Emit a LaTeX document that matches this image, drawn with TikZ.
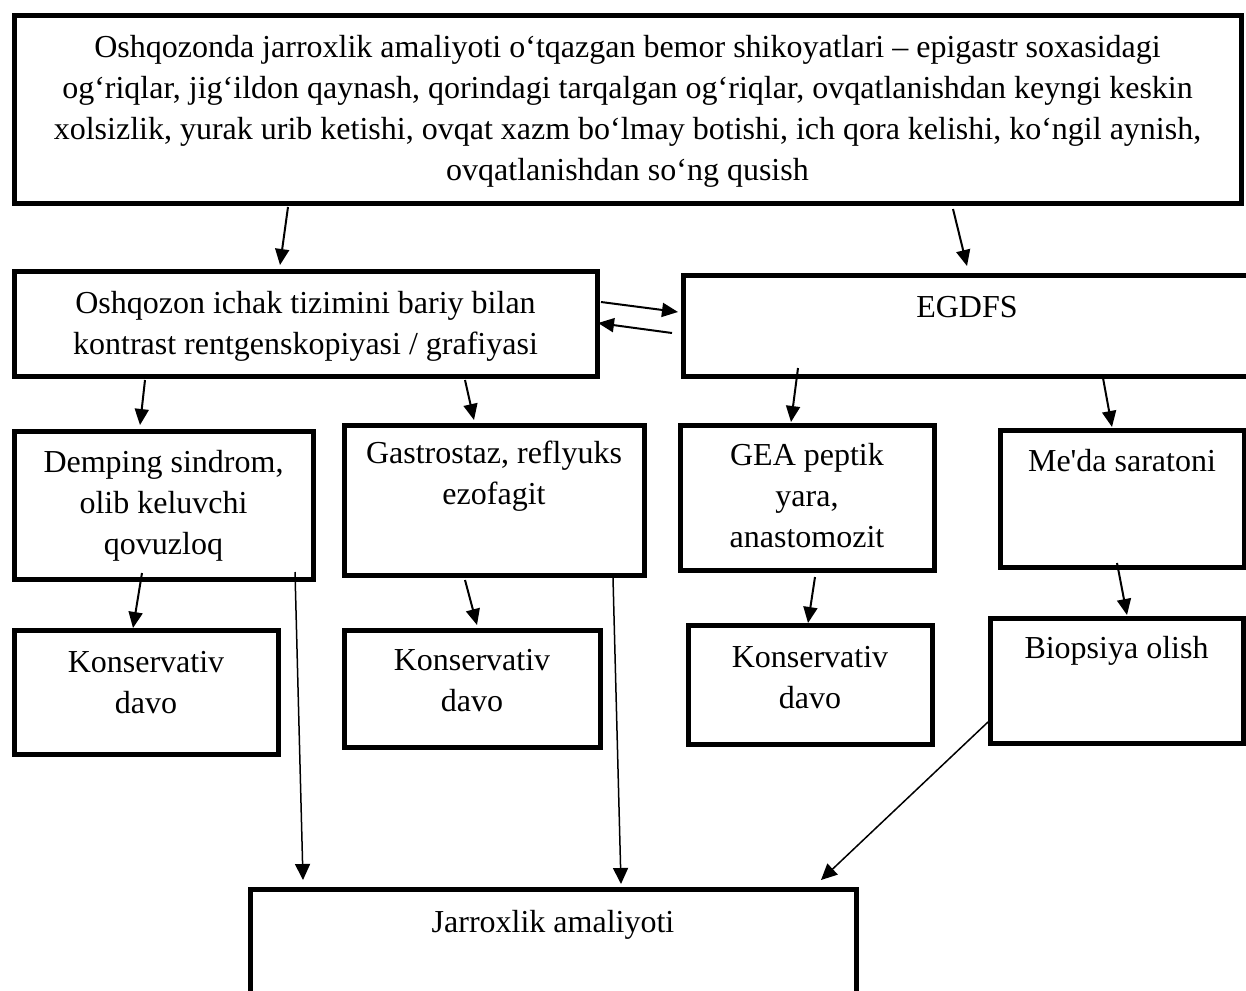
\documentclass[tikz,border=0pt]{standalone}
\usepackage{fontspec}
\newfontfamily\tnr{Liberation Serif}[Ligatures=CommonOff]
\usepackage{tikz}
\usetikzlibrary{arrows.meta}

\begin{document}
\begin{tikzpicture}[x=1pt, y=-1pt,
      blk/.style={rectangle, draw, line width=5pt, inner sep=0pt, outer sep=0pt,
        align=center, anchor=north, font=\tnr\fontsize{32}{41}\selectfont},
      arr/.style={->, line width=2pt},
      longarr/.style={-{Triangle[length=16pt,width=15pt]}, line width=1.5pt},
      >={Triangle[length=16pt,width=14pt]}]
    \fill[white] (0,0) rectangle (1246,990);
    \path[use as bounding box, clip] (0,0) rectangle (1246,990);
    \node[blk, minimum width=1227pt, text height=164pt, text depth=23pt] (top) at (627.5,16)
      {Oshqozonda jarroxlik amaliyoti o‘tqazgan bemor shikoyatlari – epigastr soxasidagi\\
       og‘riqlar, jig‘ildon qaynash, qorindagi tarqalgan og‘riqlar, ovqatlanishdan keyngi keskin\\
       xolsizlik, yurak urib ketishi, ovqat xazm bo‘lmay botishi, ich qora kelishi, ko‘ngil aynish,\\
       ovqatlanishdan so‘ng qusish};
    \node[blk, minimum width=583pt, text height=83pt, text depth=22pt] (rent) at (305.5,271)
      {Oshqozon ichak tizimini bariy bilan\\ kontrast rentgenskopiyasi / grafiyasi};
    \node[blk, minimum width=568pt, text height=42pt, text depth=59pt] (egd) at (967,275) {EGDFS};
    \node[blk, minimum width=299pt, text height=123pt, text depth=25pt] (demp) at (163.5,431)
      {Demping sindrom,\\ olib keluvchi\\ qovuzloq};
    \node[blk, minimum width=300pt, text height=79pt, text depth=71pt] (gastro) at (494,425)
      {Gastrostaz, reflyuks\\ ezofagit};
    \node[blk, minimum width=254pt, text height=122pt, text depth=23pt] (gea) at (807,425)
      {GEA peptik\\ yara,\\ anastomozit};
    \node[blk, minimum width=244pt, text height=41pt, text depth=96pt] (meda) at (1122,430)
      {Me'da saratoni};
    \node[blk, minimum width=264pt, text height=83pt, text depth=41pt] (kons1) at (146,630)
      {Konservativ\\ davo};
    \node[blk, minimum width=256pt, text height=81pt, text depth=36pt] (kons2) at (472,630)
      {Konservativ\\ davo};
    \node[blk, minimum width=244pt, text height=83pt, text depth=36pt] (kons3) at (810,625)
      {Konservativ\\ davo};
    \node[blk, minimum width=253pt, text height=40pt, text depth=85pt] (biop) at (1116.5,618)
      {Biopsiya olish};
    \node[blk, minimum width=606pt, text height=43pt, text depth=78pt] (jarr) at (553,889)
      {Jarroxlik amaliyoti};
    % first row
    \draw[arr] ([xshift=274pt,yshift=-4pt]top.south west) -- ([xshift=266pt,yshift=6pt]rent.north west);
    \draw[arr] ([xshift=939pt,yshift=-6pt]top.south west) -- ([xshift=284pt,yshift=9pt]egd.north west);
    \draw[arr] ([xshift=4pt,yshift=-31pt]rent.north east) -- ([xshift=-5pt,yshift=-37pt]egd.north west);
    \draw[arr] ([xshift=-11pt,yshift=-58pt]egd.north west) -- ([xshift=1pt,yshift=-52pt]rent.north east);
    % second row
    \draw[arr] ([xshift=131pt,yshift=-4pt]rent.south west) -- ([xshift=126pt,yshift=6pt]demp.north west);
    \draw[arr] ([xshift=451pt,yshift=-4pt]rent.south west) -- ([xshift=130pt,yshift=5pt]gastro.north west);
    \draw[arr] ([xshift=115pt,yshift=8pt]egd.south west) -- ([xshift=111pt,yshift=3pt]gea.north west);
    \draw[arr] ([xshift=420pt,yshift=-2pt]egd.south west) -- ([xshift=112pt,yshift=3pt]meda.north west);
    % third row
    \draw[arr] ([xshift=128pt,yshift=6pt]demp.south west) -- ([xshift=119pt,yshift=2pt]kons1.north west);
    \draw[arr] ([xshift=121pt,yshift=-5pt]gastro.south west) -- ([xshift=133pt,yshift=5pt]kons2.north west);
    \draw[arr] ([xshift=135pt,yshift=-7pt]gea.south west) -- ([xshift=120pt,yshift=2pt]kons3.north west);
    \draw[arr] ([xshift=117pt,yshift=4pt]meda.south west) -- ([xshift=137pt,yshift=3pt]biop.north west);
    % to surgery
    \draw[longarr] ([xshift=281pt,yshift=7pt]demp.south west) -- ([xshift=53pt,yshift=9pt]jarr.north west);
    \draw[longarr] ([xshift=269pt,yshift=-3pt]gastro.south west) -- ([xshift=371pt,yshift=5pt]jarr.north west);
    \draw[longarr] ([xshift=-2pt,yshift=21pt]biop.south west) -- ([xshift=571pt,yshift=9pt]jarr.north west);
\end{tikzpicture}
\end{document}
